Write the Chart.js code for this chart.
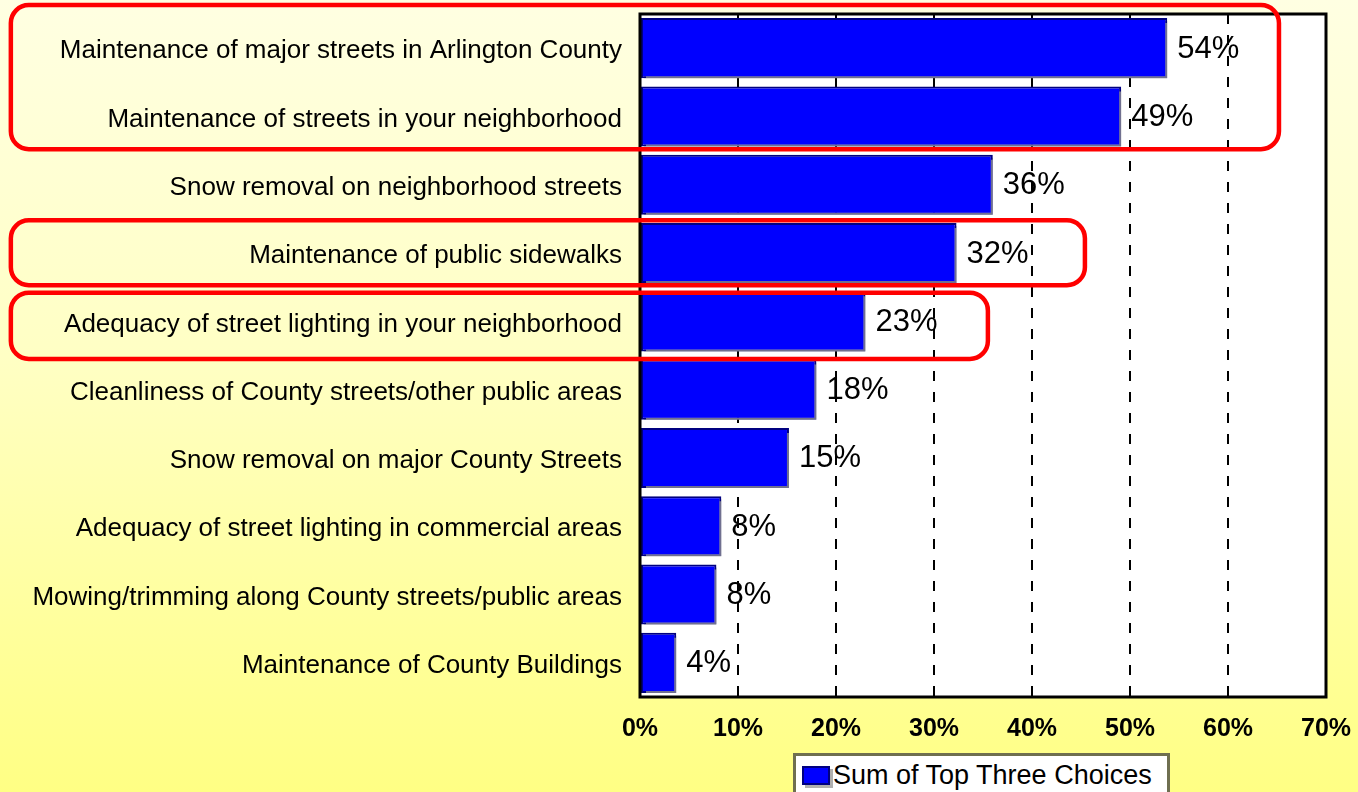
<!DOCTYPE html>
<html>
<head>
<meta charset="utf-8">
<script src="https://cdn.jsdelivr.net/npm/chart.js@4.4.0/dist/chart.umd.min.js"></script>
<style>
  html, body { margin: 0; padding: 0; }
  body {
    width: 1358px; height: 792px; overflow: hidden; position: relative;
    background: linear-gradient(to bottom, #FFFFE2 0%, #FFFFC4 45%, #FFFF84 100%);
    font-family: "Liberation Sans", Arial, sans-serif;
  }
  #wrap { position: absolute; left: 0; top: 0; width: 1358px; height: 792px; }
  #legend {
    position: absolute; left: 793px; top: 753px; width: 377px; height: 50px;
    background: #fff; border: 3px solid #6f6f50; box-sizing: border-box;
  }
  #legend .sw {
    position: absolute; left: 6px; top: 10px; width: 24px; height: 15px;
    background: #0000FF; border: 2px solid #000080; box-shadow: 3px 3px 0 #b0b0b0;
  }
  #legend .tx {
    position: absolute; left: 37px; top: 4px; font-size: 27px; color: #000; white-space: nowrap;
  }
</style>
</head>
<body>
<div id="wrap"><canvas id="c" width="1358" height="792"></canvas></div>
<div id="legend"><div class="sw"></div><div class="tx" id="legendText"></div></div>
<script>
const categories = [
  "Maintenance of major streets in Arlington County",
  "Maintenance of streets in your neighborhood",
  "Snow removal on neighborhood streets",
  "Maintenance of public sidewalks",
  "Adequacy of street lighting in your neighborhood",
  "Cleanliness of County streets/other public areas",
  "Snow removal on major County Streets",
  "Adequacy of street lighting in commercial areas",
  "Mowing/trimming along County streets/public areas",
  "Maintenance of County Buildings"
];
const topThree = [53.8, 49.1, 36.0, 32.3, 23.0, 18.0, 15.2, 8.3, 7.8, 3.7];
const valueLabels = ["54%", "49%", "36%", "32%", "23%", "18%", "15%", "8%", "8%", "4%"];
const seriesName = "Sum of Top Three Choices";
const tickValues = [0, 10, 20, 30, 40, 50, 60, 70];
// highlight boxes: category range and right edge (%)
const highlightFrom = [-0.63, 2.52, 3.58];
const highlightTo = [1.48, 3.47, 4.55];
const highlightRight = [65.2, 45.4, 35.5];
const highlightLeft = -64.2;

document.getElementById('legendText').textContent = seriesName;

const FONT = '"Liberation Sans", Arial, sans-serif';

const plotBg = {
  id: 'plotBg',
  beforeDraw(chart) {
    const {ctx, chartArea: a} = chart;
    ctx.save();
    ctx.fillStyle = '#ffffff';
    ctx.fillRect(a.left, a.top, a.right - a.left, a.bottom - a.top);
    ctx.restore();
  }
};

const shadowPlugin = {
  id: 'shadowPlugin',
  beforeDatasetsDraw(chart) {
    const ctx = chart.ctx;
    ctx.save();
    ctx.shadowColor = 'rgba(150,150,150,0.75)';
    ctx.shadowOffsetX = 3;
    ctx.shadowOffsetY = 3;
    ctx.shadowBlur = 0;
  },
  afterDatasetsDraw(chart) {
    chart.ctx.restore();
  }
};

const overlay = {
  id: 'overlay',
  afterDatasetsDraw(chart) {
    const {ctx, chartArea: a, scales} = chart;
    ctx.save();
    ctx.strokeStyle = '#000';
    ctx.lineWidth = 3;
    ctx.strokeRect(a.left, a.top, a.right - a.left, a.bottom - a.top);
    ctx.restore();
    const meta = chart.getDatasetMeta(0);
    ctx.save();
    ctx.font = '31px ' + FONT;
    ctx.fillStyle = '#000';
    ctx.textBaseline = 'middle';
    ctx.textAlign = 'left';
    meta.data.forEach((bar, i) => {
      ctx.fillText(valueLabels[i], bar.x + 10, bar.y + 1);
    });
    ctx.restore();
    ctx.save();
    ctx.strokeStyle = '#ff0000';
    ctx.lineWidth = 4.5;
    for (let k = 0; k < highlightFrom.length; k++) {
      const x1 = scales.x.getPixelForValue(highlightLeft);
      const x2 = scales.x.getPixelForValue(highlightRight[k]);
      const y1 = scales.y.getPixelForValue(highlightFrom[k]);
      const y2 = scales.y.getPixelForValue(highlightTo[k]);
      ctx.beginPath();
      ctx.roundRect(x1, y1, x2 - x1, y2 - y1, 18);
      ctx.stroke();
    }
    ctx.restore();
  }
};

new Chart(document.getElementById('c'), {
  type: 'bar',
  data: {
    labels: categories,
    datasets: [{
      label: seriesName,
      data: topThree,
      backgroundColor: '#0000FF',
      borderColor: '#000080',
      borderWidth: 2,
      borderSkipped: false,
      barPercentage: 0.88,
      categoryPercentage: 1.0
    }]
  },
  options: {
    indexAxis: 'y',
    responsive: false,
    animation: false,
    devicePixelRatio: 1,
    layout: { padding: { left: 0, top: 14, right: 32, bottom: 0 } },
    plugins: { legend: { display: false }, tooltip: { enabled: false } },
    scales: {
      x: {
        type: 'linear',
        min: 0, max: 70,
        afterBuildTicks(scale) { scale.ticks = tickValues.map(v => ({ value: v })); },
        afterFit(scale) { scale.height = 95; scale.paddingLeft = 0; scale.paddingRight = 0; },
        grid: {
          drawTicks: false,
          lineWidth: 2,
          color: (c) => (c.tick && c.tick.value > 0 && c.tick.value < 70) ? '#000' : 'rgba(0,0,0,0)'
        },
        border: { display: false, dash: [10, 11] },
        ticks: {
          padding: 17,
          color: '#000',
          font: { family: FONT, size: 25, weight: 'bold' },
          callback: (v) => v + '%'
        }
      },
      y: {
        afterFit(scale) { scale.width = 640; scale.paddingTop = 0; scale.paddingBottom = 0; },
        grid: { display: false, drawTicks: false },
        border: { display: false },
        ticks: {
          padding: 18,
          labelOffset: 3,
          color: '#000',
          font: { family: FONT, size: 26 }
        }
      }
    }
  },
  plugins: [plotBg, shadowPlugin, overlay]
});
</script>
</body>
</html>
